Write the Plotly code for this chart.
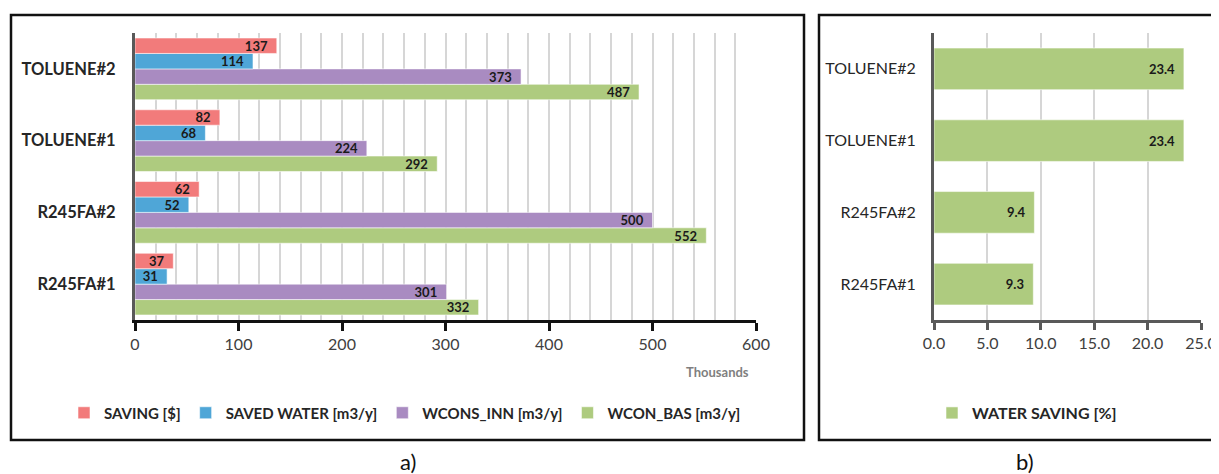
import plotly.graph_objects as go

# ---------------- data ----------------
categories = ["R245FA#1", "R245FA#2", "TOLUENE#1", "TOLUENE#2"]
saving = [37, 62, 82, 137]            # thousands $
saved_water = [31, 52, 68, 114]       # thousands m3/y
wcons_inn = [301, 500, 224, 373]      # thousands m3/y
wcon_bas = [332, 552, 292, 487]       # thousands m3/y
water_saving_pct = [9.3, 9.4, 23.4, 23.4]
x_ticks_a = [0, 100, 200, 300, 400, 500, 600]
x_ticks_b = [0, 5, 10, 15, 20, 25]
x_ticktext_b = ["0.0", "5.0", "10.0", "15.0", "20.0", "25.0"]

# page body has an 8px margin -> figure is drawn 8px right/down of the window corner
OFF = 8
W, H = 1219 - OFF, 474 - OFF
FONT = "Lato"
PAD = "\u00a0\u00a0"


def px(x):
    return (x - OFF) / W


def py(y):
    return 1 - (y - OFF) / H


fig = go.Figure()

series = [
    ("SAVING [$]", saving, "#F27B7B", 1),
    ("SAVED WATER [m3/y]", saved_water, "#4FA6D7", 2),
    ("WCONS_INN [m3/y]", wcons_inn, "#A98BC1", 3),
    ("WCON_BAS [m3/y]", wcon_bas, "#AECB7F", 4),
]
# plotly draws the first trace of a group at the bottom -> add in reverse
for name, vals, col, rank in reversed(series):
    fig.add_trace(go.Bar(
        y=categories, x=vals, orientation="h",
        name="<b>" + name + "</b>",
        marker=dict(color=col, line=dict(color="rgba(255,255,255,0.55)", width=1)),
        text=[str(v) + PAD for v in vals],
        textposition="inside", insidetextanchor="end", textangle=0,
        insidetextfont=dict(family=FONT, size=13, color="#1a1a1a", weight="bold"),
        legendrank=rank, legend="legend",
        xaxis="x", yaxis="y",
    ))

fig.add_trace(go.Bar(
    y=categories, x=water_saving_pct, orientation="h",
    name="<b>WATER SAVING [%]</b>",
    width=0.58,
    marker=dict(color="#AECB7F", line=dict(color="rgba(255,255,255,0.55)", width=1)),
    text=[f"{v:.1f}" + PAD for v in water_saving_pct],
    textposition="inside", insidetextanchor="end", textangle=0,
    insidetextfont=dict(family=FONT, size=13, color="#1a1a1a", weight="bold"),
    legend="legend2",
    xaxis="x2", yaxis="y2",
))

grid_col = "#D6D6D6"

fig.update_layout(
    width=W, height=H,
    margin=dict(l=0, r=0, t=0, b=0, autoexpand=False),
    paper_bgcolor="white", plot_bgcolor="white",
    font=dict(family=FONT, color="#262626"),
    barmode="group", bargap=0.14, bargroupgap=0.0,
    uniformtext=dict(minsize=13, mode="show"),
    xaxis=dict(
        domain=[px(135), px(756)], anchor="y", automargin=False,
        range=[0, 600], tickvals=x_ticks_a,
        showline=True, linecolor="#111111", linewidth=3,
        ticks="outside", ticklen=8, tickwidth=3, tickcolor="#111111",
        tickfont=dict(size=16, color="#404040"),
        showgrid=True, gridcolor=grid_col, gridwidth=1.5,
        minor=dict(dtick=20, showgrid=True, gridcolor=grid_col, gridwidth=1.5),
        zeroline=False,
    ),
    yaxis=dict(
        domain=[py(320), py(33)], anchor="x", automargin=False,
        showline=True, linecolor="#595959", linewidth=3,
        tickfont=dict(size=16.5, color="#262626", weight="bold"),
        ticklabelstandoff=13,
        showgrid=False, zeroline=False,
    ),
    xaxis2=dict(
        domain=[px(934), px(1201)], anchor="y2", automargin=False,
        range=[0, 25], tickvals=x_ticks_b, ticktext=x_ticktext_b,
        showline=True, linecolor="#595959", linewidth=3,
        ticks="outside", ticklen=7, tickwidth=3, tickcolor="#595959",
        tickfont=dict(size=16, color="#404040"),
        showgrid=True, gridcolor=grid_col, gridwidth=1.5,
        zeroline=False,
    ),
    yaxis2=dict(
        domain=[py(320), py(33)], anchor="x2", automargin=False,
        showline=True, linecolor="#595959", linewidth=3,
        tickfont=dict(size=16, color="#262626"),
        ticklabelstandoff=12,
        showgrid=False, zeroline=False,
    ),
    legend=dict(
        orientation="h", x=px(405), xanchor="center",
        y=py(413), yanchor="middle",
        font=dict(size=15, color="#262626"),
        bgcolor="rgba(0,0,0,0)", itemwidth=30,
    ),
    legend2=dict(
        orientation="h", x=px(1027), xanchor="center",
        y=py(413), yanchor="middle",
        font=dict(size=16, color="#262626"),
        bgcolor="rgba(0,0,0,0)", itemwidth=30,
    ),
    shapes=[
        dict(type="rect", xref="paper", yref="paper",
             x0=px(11), x1=px(804), y0=py(440), y1=py(15),
             line=dict(color="#111111", width=2.5), fillcolor="rgba(0,0,0,0)", layer="below"),
        dict(type="rect", xref="paper", yref="paper",
             x0=px(819), x1=1.02, y0=py(440), y1=py(15),
             line=dict(color="#111111", width=2.5), fillcolor="rgba(0,0,0,0)", layer="below"),
    ],
    annotations=[
        dict(text="<b>Thousands</b>", xref="paper", yref="paper",
             x=px(717), y=py(372), xanchor="center", yanchor="middle", showarrow=False,
             font=dict(size=13, color="#7F7F7F")),
        dict(text="a)", xref="paper", yref="paper",
             x=px(408), y=py(461), xanchor="center", yanchor="middle", showarrow=False,
             font=dict(size=22, color="#111111")),
        dict(text="b)", xref="paper", yref="paper",
             x=px(1025), y=py(461), xanchor="center", yanchor="middle", showarrow=False,
             font=dict(size=22, color="#111111")),
    ],
)

fig.write_html("out.html")
